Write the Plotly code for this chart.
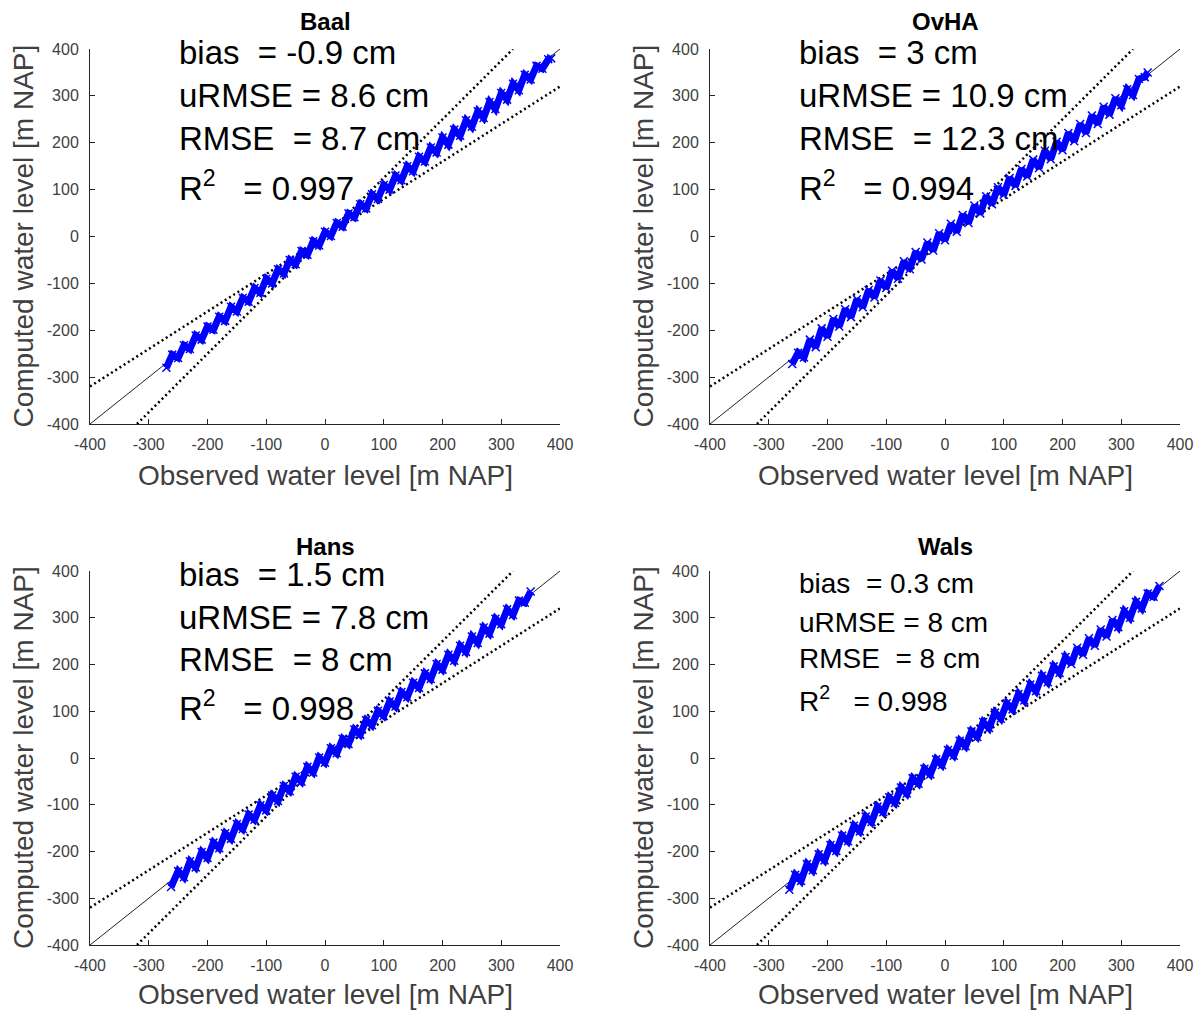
import plotly.graph_objects as go

# ---------------- data ----------------
panel_names = ["Baal", "OvHA", "Hans", "Wals"]

obs_baal = [-270, -260, -250, -240, -230, -220, -210, -200, -190, -180, -170, -160, -150, -140, -130, -120,
            -110, -100, -90, -80, -70, -60, -50, -40, -30, -20, -10, 0, 10, 20, 30, 40, 50, 60, 70, 80, 90,
            100, 110, 120, 130, 140, 150, 160, 170, 180, 190, 200, 210, 220, 230, 240, 250, 260, 270, 280,
            290, 300, 310, 320, 330, 340, 350, 360, 370, 380, 385]
comp_baal = [-280, -252, -259, -232, -240, -211, -220, -192, -199, -171, -180, -150, -160, -131, -139, -110,
             -120, -90, -100, -70, -79, -50, -59, -31, -39, -10, -19, 10, 1, 29, 21, 49, 41, 69, 60, 90, 80,
             110, 100, 130, 120, 150, 139, 170, 160, 190, 179, 211, 196, 228, 215, 248, 234, 267, 253, 287,
             272, 306, 292, 326, 312, 345, 335, 364, 358, 378, 380]

obs_ovha = [-260, -250, -240, -230, -220, -210, -200, -190, -180, -170, -160, -150, -140, -130, -120, -110,
            -100, -90, -80, -70, -60, -50, -40, -30, -20, -10, 0, 10, 20, 30, 40, 50, 60, 70, 80, 90, 100,
            110, 120, 130, 140, 150, 160, 170, 180, 190, 200, 210, 220, 230, 240, 250, 260, 270, 280, 290,
            300, 310, 320, 330, 340, 345]
comp_ovha = [-272, -248, -258, -220, -236, -196, -214, -176, -192, -155, -172, -134, -151, -114, -130, -94,
             -110, -73, -90, -53, -70, -33, -49, -13, -30, 7, -8, 27, 10, 46, 29, 66, 49, 86, 69, 105, 89,
             125, 108, 144, 128, 164, 146, 183, 165, 202, 184, 221, 203, 240, 221, 258, 240, 277, 260, 295,
             280, 314, 302, 336, 340, 350]

obs_hans = [-262, -250, -240, -230, -220, -210, -200, -190, -180, -170, -160, -150, -140, -130, -120, -110,
            -100, -90, -80, -70, -60, -50, -40, -30, -20, -10, 0, 10, 20, 30, 40, 50, 60, 70, 80, 90, 100,
            110, 120, 130, 140, 150, 160, 170, 180, 190, 200, 210, 220, 230, 240, 250, 260, 270, 280, 290,
            300, 310, 320, 330, 340, 350]
comp_hans = [-276, -242, -255, -221, -234, -201, -214, -181, -193, -161, -173, -141, -152, -121, -132, -101,
             -112, -80, -92, -60, -71, -40, -51, -19, -31, 1, -10, 21, 10, 41, 30, 61, 50, 81, 70, 101, 90,
             121, 110, 141, 130, 161, 150, 181, 169, 201, 189, 221, 208, 240, 227, 260, 246, 279, 266, 298,
             286, 318, 306, 337, 332, 356]

obs_wals = [-265, -255, -245, -235, -225, -215, -205, -195, -185, -175, -165, -155, -145, -135, -125, -115,
            -105, -95, -85, -75, -65, -55, -45, -35, -25, -15, -5, 5, 15, 25, 35, 45, 55, 65, 75, 85, 95,
            105, 115, 125, 135, 145, 155, 165, 175, 185, 195, 205, 215, 225, 235, 245, 255, 265, 275, 285,
            295, 305, 315, 325, 335, 345, 355, 365]
comp_wals = [-282, -250, -263, -227, -240, -206, -219, -186, -199, -166, -178, -145, -157, -125, -137, -104,
             -116, -84, -96, -63, -76, -43, -55, -23, -35, -3, -15, 17, 5, 37, 25, 57, 45, 77, 64, 97, 84,
             117, 104, 137, 123, 157, 143, 176, 162, 196, 182, 216, 201, 236, 221, 256, 240, 275, 260, 295,
             280, 314, 300, 334, 320, 352, 345, 368]

bias_txt = ["-0.9", "3", "1.5", "0.3"]
urmse_txt = ["8.6", "10.9", "7.8", "8"]
rmse_txt = ["8.7", "12.3", "8", "8"]
r2_txt = ["0.997", "0.994", "0.998", "0.998"]

tick_vals = [-400, -300, -200, -100, 0, 100, 200, 300, 400]
tick_text = ["-400", "-300", "-200", "-100", "0", "100", "200", "300", "400"]
axis_lim = [-400, 400]
ref_slopes = [0.8, 1.25]

x_label = "Observed water level [m NAP]"
y_label = "Computed water level [m NAP]"

obs_all = [obs_baal, obs_ovha, obs_hans, obs_wals]
comp_all = [comp_baal, comp_ovha, comp_hans, comp_wals]

# ---------------- layout geometry (pixels) ----------------
W, H = 1201, 1012
FONT = "Liberation Sans, Arial, Helvetica, sans-serif"
px_x = [(90, 560), (710, 1180), (90, 560), (710, 1180)]
px_y = [(49, 424), (49, 424), (571, 945), (571, 945)]
stat_size = [33, 33, 33, 28]
stat_rows = [(52, 95, 138, 186), (52, 95, 138, 186), (574, 617, 659, 706), (583, 622, 658, 699)]
title_y = [22, 22, 546, 546]
xtitle_off = [52, 52, 49, 49]


def fx(p):
    return p / W


def fy(p):
    return 1 - p / H


fig = go.Figure()
annotations = []

for i in range(4):
    xa = "x" if i == 0 else f"x{i + 1}"
    ya = "y" if i == 0 else f"y{i + 1}"
    # reference lines
    fig.add_trace(go.Scatter(x=axis_lim, y=axis_lim, mode="lines", xaxis=xa, yaxis=ya,
                             line=dict(color="#222222", width=1), showlegend=False, hoverinfo="skip"))
    for s in ref_slopes:
        if s < 1:
            xs = axis_lim
            ys = [s * v for v in axis_lim]
        else:
            ys = axis_lim
            xs = [v / s for v in axis_lim]
        fig.add_trace(go.Scatter(x=xs, y=ys, mode="lines", xaxis=xa, yaxis=ya,
                                 line=dict(color="black", width=2.5, dash="2px,3px"),
                                 showlegend=False, hoverinfo="skip"))
    # scatter cloud
    fig.add_trace(go.Scatter(x=obs_all[i], y=comp_all[i], mode="lines+markers", xaxis=xa, yaxis=ya,
                             line=dict(color="#0000ff", width=7),
                             marker=dict(color="#0000ff", size=8, symbol="x-thin",
                                         line=dict(color="#0000ff", width=1.5)),
                             showlegend=False))

    xr = px_x[i]
    yr = px_y[i]
    axis_common = dict(range=axis_lim, tickvals=tick_vals, ticktext=tick_text, showgrid=False,
                       zeroline=False, automargin=False,
                       showline=True, linecolor="#262626", linewidth=1, ticks="inside", ticklen=5,
                       tickcolor="#262626", tickwidth=1, mirror=False,
                       tickfont=dict(family=FONT, size=16, color="#404040"))
    layout_x = dict(axis_common, domain=[fx(xr[0]), fx(xr[1])], anchor=ya, ticklabelstandoff=6)
    layout_y = dict(axis_common, domain=[fy(yr[1]), fy(yr[0])], anchor=xa, ticklabelstandoff=7)
    fig.update_layout(**{("xaxis" if i == 0 else f"xaxis{i + 1}"): layout_x,
                         ("yaxis" if i == 0 else f"yaxis{i + 1}"): layout_y})

    cx = (xr[0] + xr[1]) / 2
    # panel title
    annotations.append(dict(x=fx(cx), y=fy(title_y[i]), xref="paper", yref="paper", text=f"<b>{panel_names[i]}</b>",
                            showarrow=False, xanchor="center", yanchor="middle",
                            font=dict(family=FONT, size=24, color="black")))
    # axis titles
    annotations.append(dict(x=fx(cx), y=fy(yr[1] + xtitle_off[i]), xref="paper", yref="paper", text=x_label,
                            showarrow=False, xanchor="center", yanchor="middle", borderpad=0,
                            font=dict(family=FONT, size=28, color="#404040")))
    annotations.append(dict(x=fx(xr[0] - 67), y=fy((yr[0] + yr[1]) / 2), xref="paper", yref="paper",
                            text=y_label, textangle=-90, showarrow=False, xanchor="center",
                            yanchor="middle", font=dict(family=FONT, size=28, color="#404040")))
    # statistics text
    nb = "\u00a0"
    lines = [f"bias{nb}{nb}={nb}{bias_txt[i]}{nb}cm",
             f"uRMSE{nb}={nb}{urmse_txt[i]}{nb}cm",
             f"RMSE{nb}{nb}={nb}{rmse_txt[i]}{nb}cm",
             f"R<sup>2</sup>{nb}{nb}{nb}={nb}{r2_txt[i]}"]
    for row, txt in zip(stat_rows[i], lines):
        annotations.append(dict(x=fx(xr[0] + 87), y=fy(row), xref="paper", yref="paper", text=txt,
                                showarrow=False, xanchor="left", yanchor="middle",
                                font=dict(family=FONT, size=stat_size[i], color="black")))

fig.update_layout(width=W, height=H, autosize=False, margin=dict(l=0, r=0, t=0, b=0),
                  paper_bgcolor="white", plot_bgcolor="white", annotations=annotations,
                  showlegend=False)

fig.write_html("out.html")
